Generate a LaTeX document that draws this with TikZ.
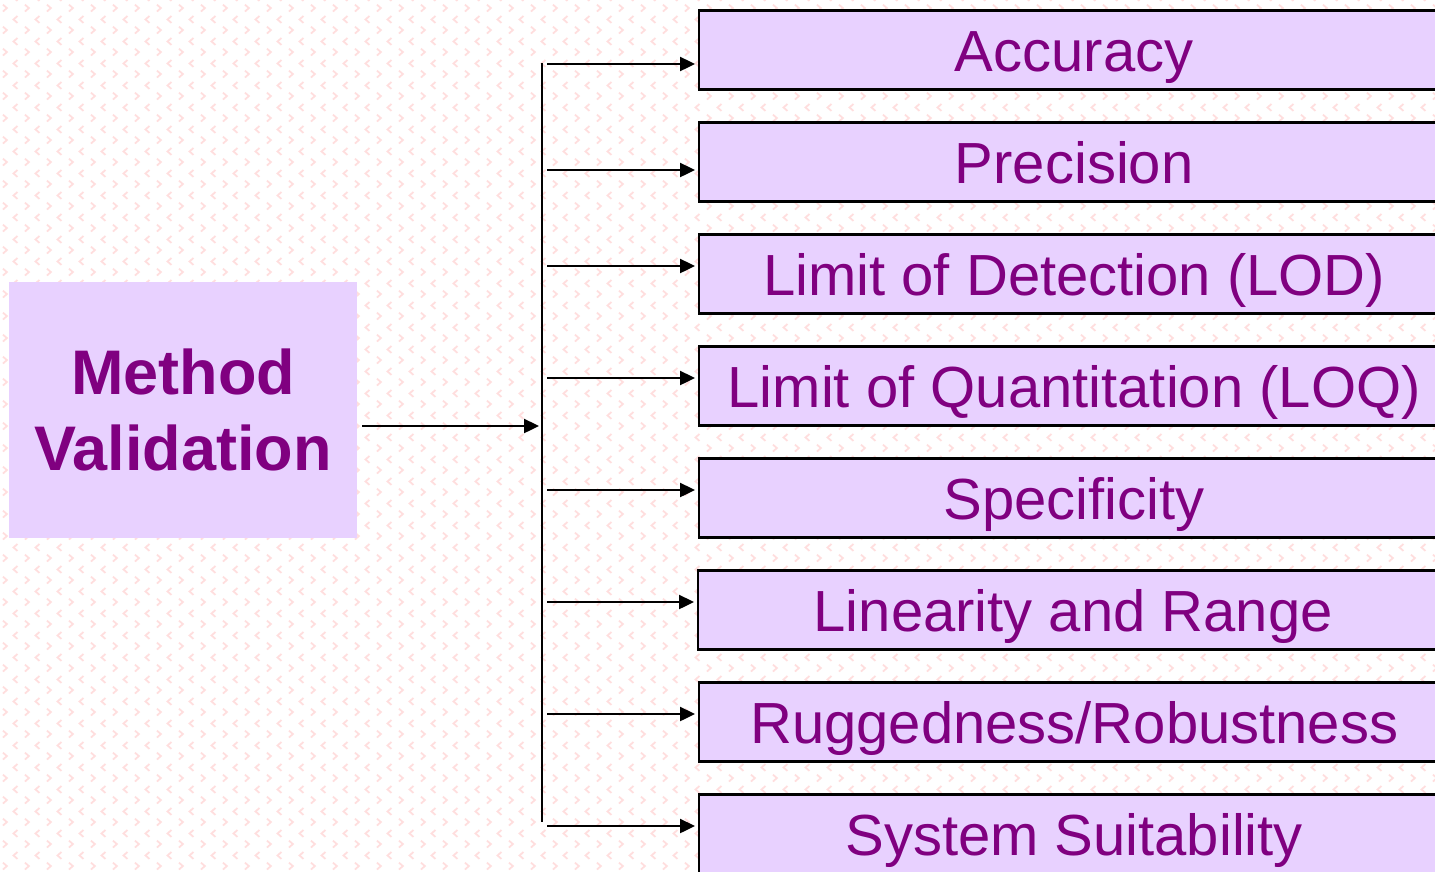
\documentclass[tikz,border=0pt]{standalone}
\usepackage{fontspec}
\setmainfont{Liberation Sans}
\usetikzlibrary{arrows.meta,patterns}

% faint chevron wallpaper tile
\pgfdeclarepatternformonly{chevrons}{\pgfpoint{0pt}{0pt}}{\pgfpoint{21.6pt}{21.6pt}}{\pgfpoint{21.6pt}{21.6pt}}{%
  \pgfsetlinewidth{1.8pt}%
  \pgfpathmoveto{\pgfpoint{3pt}{8.5pt}}%
  \pgfpathlineto{\pgfpoint{7pt}{5pt}}%
  \pgfpathlineto{\pgfpoint{3pt}{1.5pt}}%
  \pgfpathmoveto{\pgfpoint{17.8pt}{19.3pt}}%
  \pgfpathlineto{\pgfpoint{13.8pt}{15.8pt}}%
  \pgfpathlineto{\pgfpoint{17.8pt}{12.3pt}}%
  \pgfusepath{stroke}%
}

\definecolor{boxfill}{RGB}{232,209,255}
\definecolor{txtpurple}{RGB}{128,0,128}
\definecolor{wallpink}{RGB}{255,222,222}

\tikzset{
  conn/.style={line width=2.4pt, black},
  arr/.style={conn, -{Triangle[length=15pt,width=14pt]}},
  item/.style={draw=black, line width=2.4pt, fill=boxfill, text=txtpurple,
    minimum width=750pt, minimum height=79pt, anchor=west, inner sep=0pt,
    text height=43pt, text depth=0pt,
    font=\fontsize{58}{60}\selectfont},
  mainbox/.style={fill=boxfill, text=txtpurple, minimum width=348pt,
    minimum height=256pt, inner sep=0pt, align=center,
    font=\fontsize{63}{76}\selectfont\bfseries}
}

\begin{document}
\begin{tikzpicture}[x=1pt,y=-1pt]
  \useasboundingbox (0,0) rectangle (1435,871);
  \clip (0,0) rectangle (1435,871);
  \fill[white] (0,0) rectangle (1435,871);
  \fill[pattern=chevrons, pattern color=wallpink] (0,0) rectangle (1435,871);

  % source box
  \node[mainbox] (mv) at (183,410) {Method\\Validation};

  % target boxes
  \node[item] (b1) at (698,50)  {Accuracy};
  \node[item] (b2) at (698,162) {Precision};
  \node[item] (b3) at (698,274) {Limit of Detection (LOD)};
  \node[item] (b4) at (698,386) {Limit of Quantitation (LOQ)};
  \node[item] (b5) at (698,498) {Specificity};
  \node[item] (b6) at (697,610) {Linearity and Range};
  \node[item] (b7) at (698,722) {Ruggedness/Robustness};
  \node[item] (b8) at (698,834) {System Suitability};

  % trunk line
  \coordinate (ttop) at (542,63);
  \coordinate (tbot) at (542,822);
  \draw[conn] (ttop) -- (tbot);

  % feed into trunk
  \coordinate (join) at (539,426);
  \draw[arr] ([xshift=5pt]mv.east |- join) -- (join);

  % branch arrows
  \foreach \i/\y in {1/64,2/170,3/266,4/378,5/490,6/602,7/714,8/826}{
    \coordinate (s\i) at (547,\y);
    \draw[arr] (s\i) -- ([xshift=-3pt]b\i.west |- s\i);
  }
\end{tikzpicture}
\end{document}
